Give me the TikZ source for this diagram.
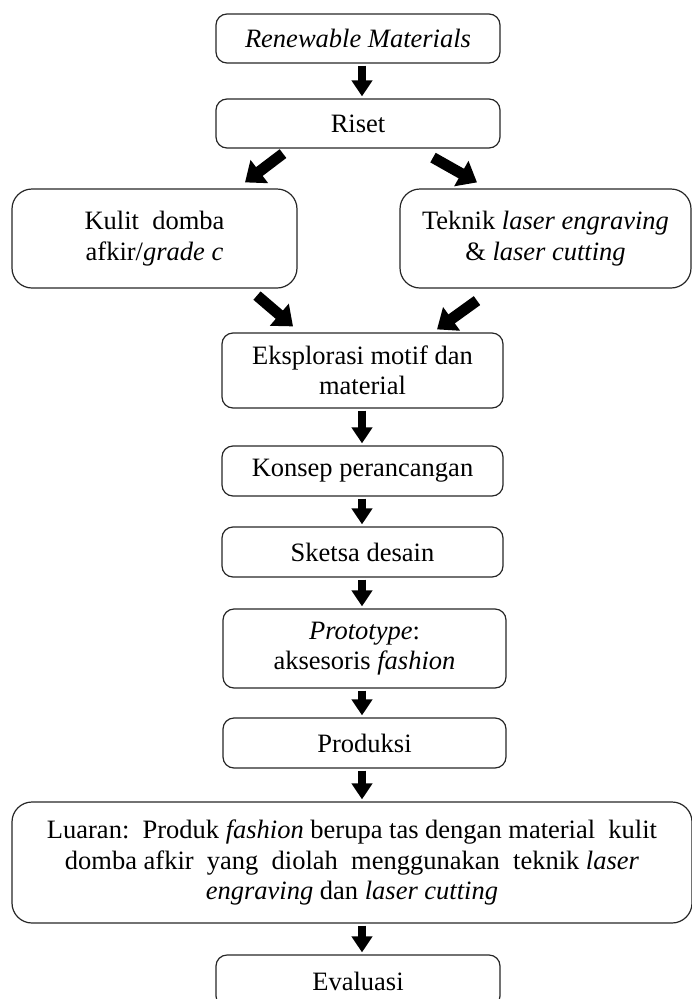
\documentclass[tikz,border=0pt]{standalone}
\usepackage{fontspec}
\setmainfont{Liberation Serif}
\usetikzlibrary{arrows.meta}
\tikzset{
  box/.style={draw=black!85, line width=1.2pt, rounded corners=11pt, align=center,
    inner sep=0pt, font=\fontsize{26.5}{30.5}\selectfont},
  bigbox/.style={box, rounded corners=20pt},
  varrow/.style={line width=7.5pt, -{Triangle[width=20pt,length=16pt]}, shorten <=2pt, shorten >=2pt},
  darrow/.style={line width=11pt, -{Triangle[width=28pt,length=18pt]}}
}
\begin{document}
\begin{tikzpicture}[x=1pt,y=-1pt]
\useasboundingbox (0,0) rectangle (692,999);
\coordinate (ax) at (362,0);
\node[box, minimum width=284pt, minimum height=49pt] (ren) at (358,38.5) {\textit{Renewable Materials}};
\node[box, minimum width=284pt, minimum height=49pt] (riset) at (358,123.5) {Riset};
\node[bigbox, minimum width=285pt, minimum height=99pt] (kulit) at (154.5,238.5) {Kulit\ \ domba\\afkir/\textit{grade c}};
\node[bigbox, minimum width=291pt, minimum height=99pt] (teknik) at (545.5,238.5) {Teknik \textit{laser engraving}\\\& \textit{laser cutting}};
\node[box, minimum width=281pt, minimum height=75pt] (eks) at (362.5,370.5) {Eksplorasi motif dan\\material};
\node[box, minimum width=281pt, minimum height=50pt] (konsep) at (362.5,471) {Konsep perancangan};
\node[box, minimum width=281pt, minimum height=50pt] (sketsa) at (362.5,552) {Sketsa desain};
\node[box, minimum width=283pt, minimum height=79pt] (proto) at (364.5,648.5) {\textit{Prototype}:\\aksesoris \textit{fashion}};
\node[box, minimum width=283pt, minimum height=50pt] (prod) at (364.5,743) {Produksi};
\node[bigbox, minimum width=680pt, minimum height=121pt] (luaran) at (352,862.5) {Luaran:\ \ Produk \textit{fashion} berupa tas dengan material\ \ kulit\\domba afkir\ \ yang\ \ diolah\ \ menggunakan\ \ teknik \textit{laser}\\\textit{engraving} dan \textit{laser cutting}};
\node[box, minimum width=284pt, minimum height=52pt] (eval) at (358,981) {Evaluasi};

\draw[varrow] (ren.south -| ax) -- (riset.north -| ax);
\draw[darrow] ([shift={(-75pt,-5pt)}]riset.south) -- ([shift={(90.5pt,6pt)}]kulit.north);
\draw[darrow] ([shift={(75pt,-9pt)}]riset.south) -- ([shift={(-68.5pt,6pt)}]teknik.north);
\draw[darrow] ([shift={(102.5pt,-7pt)}]kulit.south) -- ([shift={(-69.5pt,6pt)}]eks.north);
\draw[darrow] ([shift={(-68.5pt,-12pt)}]teknik.south) -- ([shift={(74.5pt,3pt)}]eks.north);
\draw[varrow] (eks.south -| ax) -- (konsep.north -| ax);
\draw[varrow] (konsep.south -| ax) -- (sketsa.north -| ax);
\draw[varrow] (sketsa.south -| ax) -- (proto.north -| ax);
\draw[varrow] (proto.south -| ax) -- (prod.north -| ax);
\draw[varrow] (prod.south -| ax) -- (luaran.north -| ax);
\draw[varrow] (luaran.south -| ax) -- (eval.north -| ax);
\end{tikzpicture}
\end{document}
